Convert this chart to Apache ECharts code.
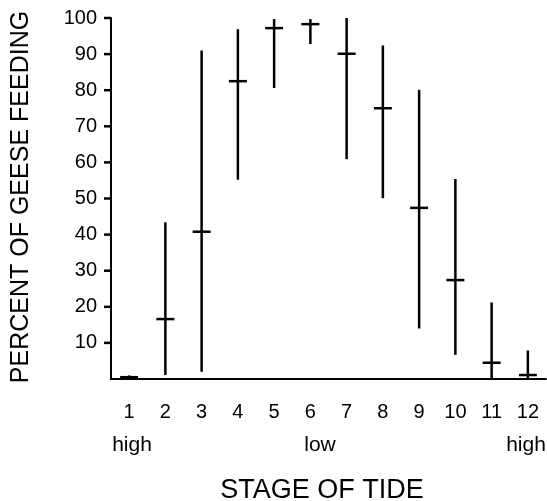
<!DOCTYPE html>
<html>
<head>
<meta charset="utf-8">
<script src="https://cdn.jsdelivr.net/npm/echarts@6/dist/echarts.min.js"></script>
<style>
  html, body { margin: 0; padding: 0; background: #fff; }
  #chart { width: 547px; height: 501px; }
</style>
</head>
<body>
<div id="chart"></div>
<script>
// stage of tide 1..12
const stages = ['1', '2', '3', '4', '5', '6', '7', '8', '9', '10', '11', '12']
// percent of geese feeding: mean and range
const means = [0.5, 16.6, 40.8, 82.5, 97.2, 98.3, 90.1, 75.0, 47.4, 27.4, 4.5, 1.1]
const lows = [0, 1.1, 2.0, 55.2, 80.6, 92.8, 60.9, 50.1, 14.0, 6.7, 0, 0]
const highs = [1, 43.4, 91.0, 96.9, 99.7, 99.7, 100, 92.4, 80.1, 55.4, 21.2, 7.9]
const yTicks = [10, 20, 30, 40, 50, 60, 70, 80, 90, 100]

const font = 'Liberation Sans'
const chart = echarts.init(document.getElementById('chart'))

const barData = stages.map((s, i) => [i, lows[i], highs[i], means[i]])
const tickData = yTicks.map(v => [0, v])

chart.setOption({
  animation: false,
  grid: { left: 111, right: 1, top: 18, bottom: 122 },
  xAxis: {
    type: 'category',
    data: stages,
    axisLine: { lineStyle: { color: '#000', width: 2 } },
    axisTick: { alignWithLabel: true, length: 8, lineStyle: { color: '#000', width: 2 }, interval: 0 },
    axisLabel: { interval: 0, margin: 23, color: '#000', fontSize: 20, fontFamily: font }
  },
  yAxis: {
    type: 'value',
    min: 0,
    max: 100,
    interval: 10,
    splitLine: { show: false },
    axisLine: { show: true, onZero: false, lineStyle: { color: '#000', width: 2 } },
    axisTick: { show: false },
    axisLabel: {
      margin: 14, color: '#000', fontSize: 20, fontFamily: font,
      formatter: v => (v === 0 ? '' : String(v))
    }
  },
  series: [
    {
      type: 'custom',
      data: barData,
      encode: { x: 0, y: [1, 2, 3] },
      renderItem: (params, api) => {
        const x = api.value(0)
        const lo = api.coord([x, api.value(1)])
        const hi = api.coord([x, api.value(2)])
        const mid = api.coord([x, api.value(3)])
        const style = { stroke: '#000', lineWidth: 2.5 }
        return {
          type: 'group',
          children: [
            { type: 'line', shape: { x1: lo[0], y1: lo[1], x2: hi[0], y2: hi[1] }, style },
            { type: 'line', shape: { x1: mid[0] - 9, y1: mid[1], x2: mid[0] + 9, y2: mid[1] }, style }
          ]
        }
      }
    },
    {
      // y axis tick marks (10..100, none at 0)
      type: 'custom',
      silent: true,
      data: tickData,
      encode: { x: 0, y: 1 },
      renderItem: (params, api) => {
        const left = params.coordSys.x
        const y = api.coord([0, api.value(1)])[1]
        return {
          type: 'line',
          shape: { x1: left - 7, y1: y, x2: left, y2: y },
          style: { stroke: '#000', lineWidth: 2.5 }
        }
      }
    }
  ],
  graphic: [
    { type: 'text', x: 132, y: 445, style: { text: 'high', font: '21px ' + font, fill: '#000', align: 'center', verticalAlign: 'middle' } },
    { type: 'text', x: 320, y: 445, style: { text: 'low', font: '21px ' + font, fill: '#000', align: 'center', verticalAlign: 'middle' } },
    { type: 'text', x: 526, y: 445, style: { text: 'high', font: '21px ' + font, fill: '#000', align: 'center', verticalAlign: 'middle' } },
    { type: 'text', x: 322, y: 491, style: { text: 'STAGE OF TIDE', font: '27px ' + font, fill: '#000', align: 'center', verticalAlign: 'middle' } },
    { type: 'text', x: 21, y: 197, rotation: Math.PI / 2, style: { text: 'PERCENT OF GEESE FEEDING', font: '25px ' + font, fill: '#000', align: 'center', verticalAlign: 'middle' } }
  ]
})
</script>
</body>
</html>
